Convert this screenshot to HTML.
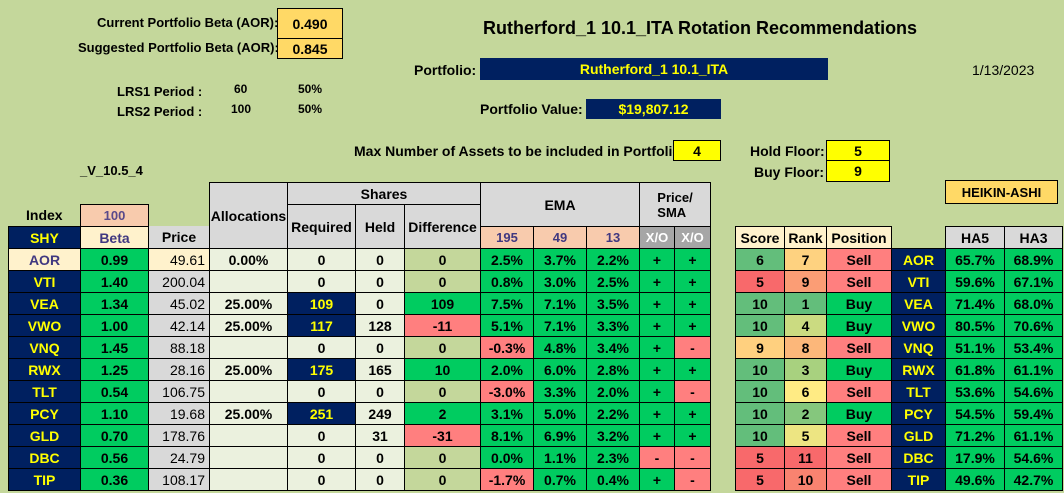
<!DOCTYPE html>
<html><head><meta charset="utf-8"><style>
body{margin:0;width:1064px;height:493px;background:#c4d79b;position:relative;overflow:hidden;font-family:"Liberation Sans Narrow","Liberation Sans",sans-serif;font-weight:bold;color:#000}
.a{position:absolute;box-sizing:border-box;display:flex;align-items:center;justify-content:center;white-space:nowrap}
.t{position:absolute;white-space:nowrap;font-size:13px}
.c{border:1px solid #000}
.w{font-family:"Liberation Sans",sans-serif}
</style></head><body>
<div class="t w" style="left:97px;top:15px">Current Portfolio Beta (AOR):</div>
<div class="t w" style="left:78px;top:40px">Suggested Portfolio Beta (AOR):</div>
<div class="a c w" style="left:277px;top:8px;width:66px;height:31px;background:#ffd966;font-size:14px">0.490</div>
<div class="a c w" style="left:277px;top:38px;width:66px;height:21px;background:#ffd966;font-size:14px">0.845</div>
<div class="t w" style="left:117px;top:84px">LRS1 Period :</div>
<div class="t w" style="left:117px;top:104px">LRS2 Period :</div>
<div class="t w" style="left:234px;top:82px;font-size:12px">60</div>
<div class="t w" style="left:231px;top:102px;font-size:12px">100</div>
<div class="t w" style="left:298px;top:82px;font-size:12px">50%</div>
<div class="t w" style="left:298px;top:102px;font-size:12px">50%</div>
<div class="t w" style="left:80px;top:163px">_V_10.5_4</div>
<div class="t w" style="left:483px;top:18px;font-size:18px">Rutherford_1 10.1_ITA Rotation Recommendations</div>
<div class="t" style="left:414px;top:62px;font-size:14px">Portfolio:</div>
<div class="a" style="left:480px;top:58px;width:348px;height:22px;background:#002060;color:#ffff00;font-size:14px">Rutherford_1 10.1_ITA</div>
<div class="t" style="left:972px;top:62px;font-size:14px;font-weight:normal">1/13/2023</div>
<div class="t" style="left:480px;top:101px;font-size:14px">Portfolio Value:</div>
<div class="a" style="left:586px;top:99px;width:135px;height:20px;background:#002060;color:#ffff00;font-size:14px">$19,807.12</div>
<div class="t" style="left:354px;top:143px;font-size:14px">Max Number of Assets to be included in Portfolio:</div>
<div class="a c" style="left:673px;top:140px;width:48px;height:21px;background:#ffff00;font-size:14px">4</div>
<div class="t" style="left:750px;top:143px;font-size:14px">Hold Floor:</div>
<div class="t" style="left:754px;top:164px;font-size:14px">Buy Floor:</div>
<div class="a c" style="left:826px;top:140px;width:64px;height:21px;background:#ffff00;font-size:14px">5</div>
<div class="a c" style="left:826px;top:160px;width:64px;height:22px;background:#ffff00;font-size:14px">9</div>
<div class="a c" style="left:945px;top:180px;width:113px;height:24px;background:#ffd966;font-size:13px">HEIKIN-ASHI</div>
<div id="grid"></div>
<script>
const tickers=["AOR","VTI","VEA","VWO","VNQ","RWX","TLT","PCY","GLD","DBC","TIP"];
const betas=[0.99,1.40,1.34,1.00,1.45,1.25,0.54,1.10,0.70,0.56,0.36];
const prices=[49.61,200.04,45.02,42.14,88.18,28.16,106.75,19.68,178.76,24.79,108.17];
const allocs=["0.00%","","25.00%","25.00%","","25.00%","","25.00%","","",""];
const required=[0,0,109,117,0,175,0,251,0,0,0];
const held=[0,0,0,128,0,165,0,249,31,0,0];
const ema195=[2.5,0.8,7.5,5.1,-0.3,2.0,-3.0,3.1,8.1,0.0,-1.7];
const ema49=[3.7,3.0,7.1,7.1,4.8,6.0,3.3,5.0,6.9,1.1,0.7];
const ema13=[2.2,2.5,3.5,3.3,3.4,2.8,2.0,2.2,3.2,2.3,0.4];
const xo1=["+","+","+","+","+","+","+","+","+","-","+"];
const xo2=["+","+","+","+","-","+","-","+","+","-","-"];
const scores=[6,5,10,10,9,10,10,10,10,5,5];
const ranks=[7,9,1,4,8,3,6,2,5,11,10];
const positions=["Sell","Sell","Buy","Buy","Sell","Buy","Sell","Buy","Sell","Sell","Sell"];
const ha5=[65.7,59.6,71.4,80.5,51.1,61.8,53.6,54.5,71.2,17.9,49.6];
const ha3=[68.9,67.1,68.0,70.6,53.4,61.1,54.6,59.4,61.1,54.6,42.7];
const G=document.getElementById('grid');
function cell(x,y,w,h,txt,bg,col,fs,name){const d=document.createElement('div');d.className='a c';


d.style.cssText=`left:${x}px;top:${y}px;width:${w+1}px;height:${h+1}px;background:${bg};color:${col||'#000'};font-size:${fs||14}px`;d.textContent=txt;G.appendChild(d);return d;}
const X=[8,80,148,209,287,355,404,480,533,586,639,674,710];
const X2=[735,784,826,891,945,1004,1062];
const GREEN='#00cc60',PINK='#ff7f7f',CREAM='#ebf1de',NAVY='#002060',Y='#ffff00';
// headers
cell(80,204,68,22,"100","#f8cbad","#5a4a8a",13,"index-value");
const ix=document.createElement('div');ix.className='t';ix.textContent='Index';ix.style.cssText='left:26px;top:207px;font-size:14px';


G.appendChild(ix);
cell(8,226,72,22,"SHY",NAVY,Y,14,"shy-header");
cell(80,226,68,22,"Beta","#fff2cc","#403880",14,"beta-header");
cell(148,226,61,22,"Price","#d9d9d9","#000",14,"price-header").style.borderTop='none';
cell(209,182,78,66,"Allocations","#d9d9d9","#000",14,"allocations-header");
cell(287,182,193,22,"Shares","#d9d9d9","#000",14,"shares-header");
cell(287,204,68,44,"Required","#d9d9d9","#000",14,"required-header");
cell(355,204,49,44,"Held","#d9d9d9","#000",14,"held-header");
cell(404,204,76,44,"Difference","#d9d9d9","#000",14,"difference-header");
cell(480,182,159,44,"EMA","#d9d9d9","#000",14,"ema-header");
cell(639,182,71,44,"","#d9d9d9","#000",13,"price-sma-header").innerHTML="Price/<br>SMA";
cell(480,226,53,22,"195","#f8cbad","#403880",13,"ema195-header");
cell(533,226,53,22,"49","#f8cbad","#403880",13,"ema49-header");
cell(586,226,53,22,"13","#f8cbad","#403880",13,"ema13-header");
cell(639,226,35,22,"X/O","#a6a6a6","#fff",13,"xo-ema-header");
cell(674,226,36,22,"X/O","#a6a6a6","#fff",13,"xo-sma-header");
cell(735,226,49,22,"Score","#fff2cc","#000",14,"score-header");
cell(784,226,42,22,"Rank","#fff2cc","#000",14,"rank-header");
cell(826,226,65,22,"Position","#fff2cc","#000",14,"position-header");
cell(945,226,59,22,"HA5","#d9d9d9","#000",14,"ha5-header");
cell(1004,226,58,22,"HA3","#d9d9d9","#000",14,"ha3-header");
const rankCols=['#63be7b','#85c77d','#a8d17f','#cbdb81','#ede582','#ffeb84','#fed280','#fcb77a','#fb9d75','#f98370','#f8696b'];
function scoreCol(s){return s>=10?'#63be7b':s>=9?'#ffd07f':s>=6?'#63be7b':'#f8696b';}
const y0=248,rh=22;
tickers.forEach((t,i)=>{const y=y0+i*rh;const aor=i===0;
cell(X[0],y,72,rh,t,aor?'#fff2cc':NAVY,aor?'#403880':Y,14,'ticker-'+t);
cell(X[1],y,68,rh,betas[i].toFixed(2),GREEN,'#000',14,'beta-'+t);
const p=cell(X[2],y,61,rh,prices[i].toFixed(2),aor?'#fff2cc':'#d9d9d9','#000',14,'price-'+t);p.style.justifyContent='flex-end';p.style.paddingRight='4px';p.style.fontWeight='normal';
cell(X[3],y,78,rh,allocs[i],CREAM,'#000',14,'allocation-'+t);
cell(X[4],y,68,rh,String(required[i]),required[i]>0?NAVY:CREAM,required[i]>0?Y:'#000',14,'required-'+t);
cell(X[5],y,49,rh,String(held[i]),CREAM,'#000',14,'held-'+t);
const d=required[i]-held[i];
cell(X[6],y,76,rh,String(d),d>0?GREEN:d<0?PINK:'#c4d79b','#000',14,'difference-'+t);
[ema195,ema49,ema13].forEach((a,k)=>{cell(X[7+k],y,53,rh,a[i].toFixed(1)+'%',a[i]<0?PINK:GREEN,'#000',14,'ema-'+['195','49','13'][k]+'-'+t);});
cell(X[10],y,35,rh,xo1[i],xo1[i]==='+'?GREEN:PINK,'#000',14,'xo-ema-'+t);
cell(X[11],y,36,rh,xo2[i],xo2[i]==='+'?GREEN:PINK,'#000',14,'xo-sma-'+t);
cell(X2[0],y,49,rh,String(scores[i]),scoreCol(scores[i]),'#000',14,'score-'+t);
cell(X2[1],y,42,rh,String(ranks[i]),rankCols[ranks[i]-1],'#000',14,'rank-'+t);
cell(X2[2],y,65,rh,positions[i],positions[i]==='Buy'?GREEN:PINK,'#000',14,'position-'+t);
cell(X2[3],y,54,rh,t,NAVY,Y,14,'ha-ticker-'+t);
cell(X2[4],y,59,rh,ha5[i].toFixed(1)+'%',GREEN,'#000',14,'ha5-'+t);
cell(X2[5],y,58,rh,ha3[i].toFixed(1)+'%',GREEN,'#000',14,'ha3-'+t);
});
</script>
</body></html>
